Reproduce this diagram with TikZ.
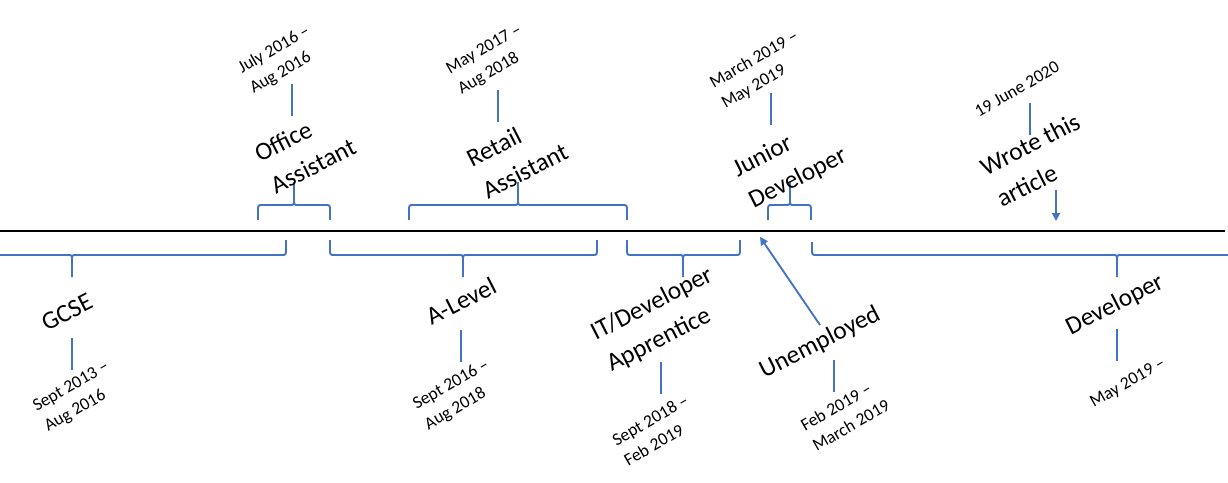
\documentclass[tikz,border=0pt]{standalone}
\usepackage{fontspec}
\setmainfont{Carlito}
\usetikzlibrary{arrows.meta}
\definecolor{obl}{HTML}{4472C4}
\newcommand\BraceTop[3]{%
  \draw[brace] (#1,220) -- (#1,211) .. controls (#1,205) .. (#1+5,205) -- (#2-4,205) .. controls (#2,205) .. (#2,199) -- (#2,182);
  \draw[brace] (#2,199) .. controls (#2,205) .. (#2+4,205) -- (#3-5,205) .. controls (#3,205) .. (#3,211) -- (#3,220);}
\newcommand\BraceBot[4]{%
  \draw[brace] (#1,#4) -- (#1,249) .. controls (#1,255) .. (#1+5,255) -- (#2-4,255) .. controls (#2,255) .. (#2,261) -- (#2,277);
  \draw[brace] (#2,261) .. controls (#2,255) .. (#2+4,255) -- (#3-5,255) .. controls (#3,255) .. (#3,249) -- (#3,240);}
\tikzset{
  brace/.style={draw=obl, line width=1.4pt},
  conn/.style={draw=obl, line width=1.4pt},
  arr/.style={draw=obl, line width=1.4pt, -{Triangle[length=6pt,width=6pt]}},
  lab/.style={font=\fontsize{19}{26.5}\selectfont, align=left, inner sep=0pt, rotate=27},
  dat/.style={font=\fontsize{13.2}{17.5}\selectfont, align=left, inner sep=0pt, rotate=30},
}
\begin{document}
\begin{tikzpicture}[x=0.75pt,y=-0.75pt]
\useasboundingbox (0,0) rectangle (1228,482);
% timeline
\coordinate (tlA) at (0,231);
\coordinate (tlB) at (1225,231);
\draw[line width=1.3pt, black] (tlA) -- (tlB);

% top braces
\BraceTop{258}{294}{330}
\BraceTop{409}{518}{627}
\BraceTop{768}{790}{811}
% bottom braces
\BraceBot{-20}{72}{286}{240}
\BraceBot{330}{463}{597}{240}
\BraceBot{627}{683}{740}{240}
\BraceBot{812}{1117}{1260}{242}

% labels
\node[lab] (lOffice) at (305,150) {Office\\Assistant};
\node[lab] (lRetail) at (517,155) {Retail\\Assistant};
\node[lab] (lJunior) at (790,163) {Junior\\Developer};
\node[lab] (lWrote) at (1038,160) {Wrote this\\article};
\node[lab] (lGCSE) at (67,312) {GCSE};
\node[lab] (lALevel) at (461,301) {A-Level};
\node[lab] (lIT) at (660,320) {IT/Developer\\Apprentice};
\node[lab] (lUnemp) at (820,343) {Unemployed};
\node[lab] (lDev) at (1115,305) {Developer};

% dates
\node[dat] (dOffice) at (280,60) {July 2016 –\\Aug 2016};
\node[dat] (dRetail) at (490,60) {May 2017 –\\Aug 2018};
\node[dat] (dJunior) at (760,70) {March 2019 –\\May 2019};
\node[dat] (dWrote) at (1017,89) {19 June 2020};
\node[dat] (dGCSE) at (77,397) {Sept 2013 –\\Aug 2016};
\node[dat] (dALevel) at (457,395) {Sept 2016 –\\Aug 2018};
\node[dat] (dIT) at (656,430) {Sept 2018 –\\Feb 2019};
\node[dat] (dUnemp) at (845,415) {Feb 2019 –\\March 2019};
\node[dat] (dDev) at (1128,383) {May 2019 –};

% stem lines between labels and dates
\coordinate (a1) at (292,84);   \coordinate (b1) at (292,116);
\coordinate (a2) at (498,90);   \coordinate (b2) at (498,122);
\coordinate (a3) at (771,93);   \coordinate (b3) at (771,125);
\coordinate (a4) at (1030,103); \coordinate (b4) at (1030,135);
\coordinate (a5) at (72,338);   \coordinate (b5) at (72,370);
\coordinate (a6) at (461,330);  \coordinate (b6) at (461,362);
\coordinate (a7) at (661,362);  \coordinate (b7) at (661,394);
\coordinate (a8) at (834,360);  \coordinate (b8) at (834,392);
\coordinate (a9) at (1117,329); \coordinate (b9) at (1117,361);
\foreach \i in {1,...,9} {\draw[conn] (a\i) -- (b\i);}

% arrows
\coordinate (wA) at (1056,190); \coordinate (wB) at (1056,221);
\draw[arr] (wA) -- (wB);
\coordinate (uA) at (820,325); \coordinate (uB) at (760,237);
\draw[arr] (uA) -- (uB);
\end{tikzpicture}
\end{document}
